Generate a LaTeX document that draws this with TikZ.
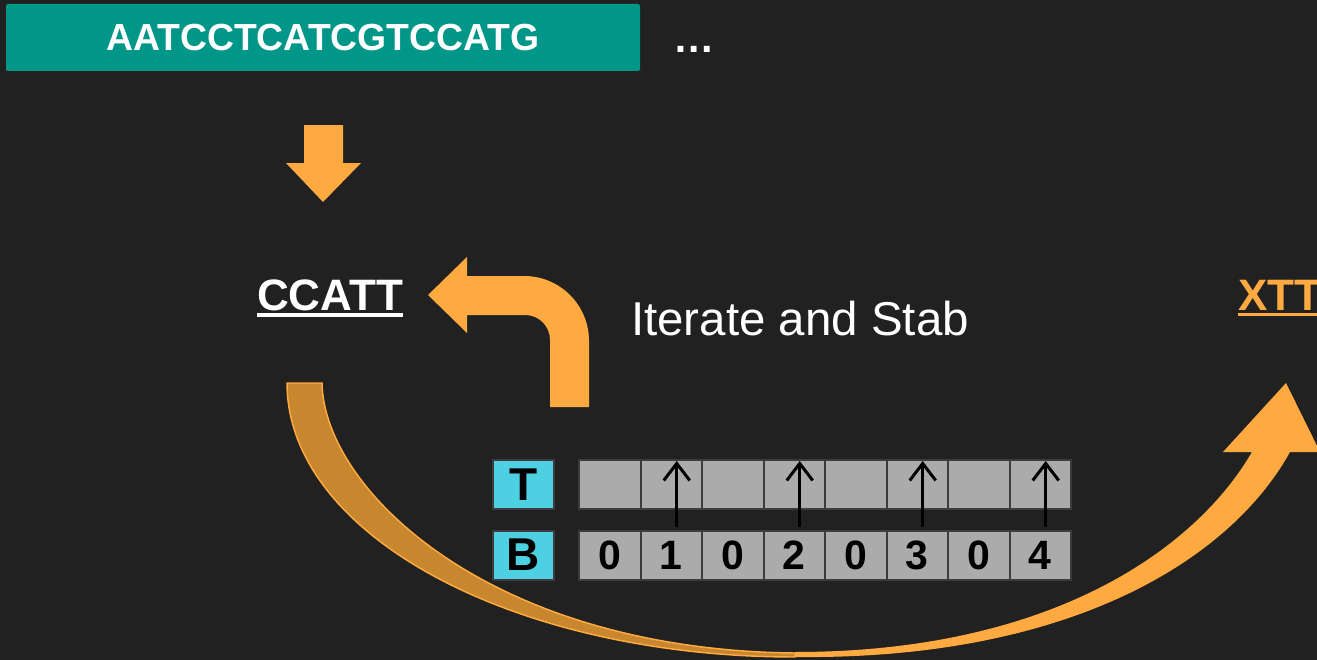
\documentclass[tikz,border=0pt]{standalone}
\usepackage{fontspec}
\usepackage{graphicx}
\setmainfont{Liberation Sans}
\usetikzlibrary{arrows.meta,calc}
\definecolor{bg}{RGB}{33,33,33}
\definecolor{teal1}{RGB}{0,150,136}
\definecolor{org}{RGB}{255,170,64}
\definecolor{dorg}{RGB}{200,134,46}
\definecolor{cyan1}{RGB}{77,208,225}
\definecolor{cellg}{RGB}{171,171,171}
\definecolor{celledge}{RGB}{60,60,60}
\begin{document}
\begin{tikzpicture}[x=0.75pt,y=-0.75pt,
  cellbox/.style={draw=celledge, line width=1.5pt, fill=cellg, minimum width=46.125pt,
    minimum height=36.75pt, inner sep=0pt, text=black,
    font=\fontsize{30.75pt}{32pt}\selectfont\bfseries},
  lblbox/.style={cellbox, fill=cyan1, minimum width=45.75pt,
    font=\fontsize{34.5pt}{36pt}\selectfont\bfseries},
  ptr/.style={-{Straight Barb[length=12.75pt,width=19.5pt]}, line width=2.25pt, black},
  shapefill/.style={fill=org},
  bigtext/.style={inner sep=0pt, font=\fontsize{33pt}{36pt}\selectfont\bfseries}
]
\useasboundingbox (0,0) rectangle (1317,660);
\fill[bg] (0,0) rectangle (1317,660);
\begin{scope}
\clip (0,0) rectangle (1317,660);

% sequence box
\node[fill=teal1, rounded corners=1.5pt, minimum width=475.5pt, minimum height=50.25pt,
  inner sep=0pt, text=white, font=\fontsize{28.3pt}{30pt}\selectfont\bfseries]
  (seq) at (323,37.5) {\scalebox{0.99}[1]{AATCCTCATCGTCCATG}};
\node[anchor=base, inner sep=0pt, text=white, font=\fontsize{31pt}{33pt}\selectfont\bfseries]
  (dots) at (694,53) {…};

% down arrow
\fill[shapefill] (304,125) -- (343,125) -- (343,163) -- (361,163) -- (323,202)
  -- (286,163) -- (304,163) -- cycle;

% CCATT
\node[bigtext, anchor=base, text=white] (ccatt) at (330,310) {CCATT};
\draw[white, line width=2.6pt] ($(ccatt.base west)+(0,5)$) -- ($(ccatt.base east)+(0,5)$);

% bent arrow
\fill[shapefill] (428,295) -- (467,257) -- (467,276) -- (524,276)
  .. controls (560,276) and (589,305) .. (589,341) -- (589,407) -- (550,407) -- (550,340)
  .. controls (550,326) and (539,315) .. (525,315) -- (467,315) -- (467,333) -- cycle;

% Iterate and Stab
\node[anchor=base, inner sep=0pt, text=white, font=\fontsize{35.6pt}{38pt}\selectfont]
  (iter) at (800,335) {Iterate and Stab};

% XTT
\node[bigtext, anchor=base west, text=org] (xtt) at (1238,310) {XTT};
\draw[org, line width=2.6pt] ($(xtt.base west)+(0,4.5)$) -- ($(xtt.base east)+(0,4.5)$);

% big curved arrow: back (dark) part
\filldraw[fill=dorg, draw=org, line width=1.1pt] (287,383) -- (322,383)
  .. controls (324,490) and (490,650) .. (795,653) -- (795,657)
  .. controls (514,657) and (287,535) .. (287,383) -- cycle;
% front (bright) part
\fill[shapefill] (795,657) .. controls (1070,660) and (1230,560) .. (1290,452)
  -- (1320,452) -- (1286,383) -- (1223,452) -- (1252,452)
  .. controls (1195,550) and (1050,652) .. (795,652) -- cycle;

% table
\node[lblbox] (lt) at (523.5,484.5) {T};
\node[lblbox] (lb) at (523.5,555) {B};
\foreach \i/\d in {0/0,1/1,2/0,3/2,4/0,5/3,6/0,7/4} {
  \node[cellbox] (t\i) at ({609.75+61.5*\i},484.5) {};
  \node[cellbox] (b\i) at ({609.75+61.5*\i},555) {\d};
}
\foreach \i in {1,3,5,7}
  \draw[ptr] ([xshift=4.1pt,yshift=2.25pt]b\i.north) -- ([xshift=4.1pt,yshift=-1.5pt]t\i.north);
\end{scope}
\end{tikzpicture}
\end{document}
